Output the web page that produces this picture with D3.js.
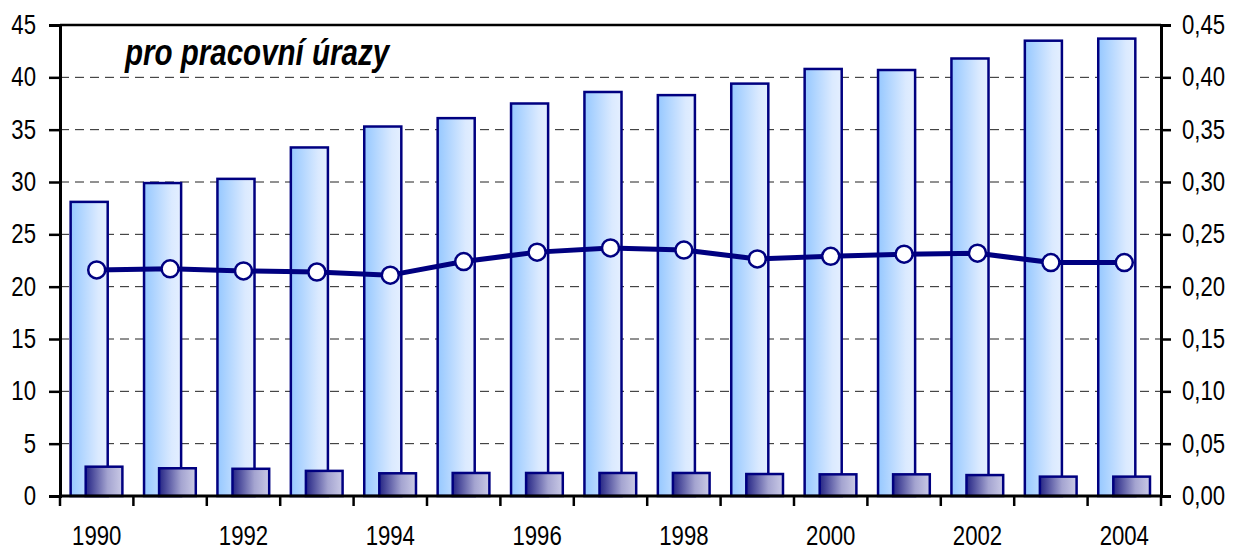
<!DOCTYPE html>
<html>
<head>
<meta charset="utf-8">
<style>
  body { margin: 0; background: #fff; }
  svg text { font-family: "Liberation Sans Narrow", "Arial Narrow", "Liberation Sans", Arial, sans-serif; fill: #000; }
  .title { font-size: 36px; font-weight: bold; font-style: italic; }
  .tick text { font-size: 27px; }
</style>
</head>
<body>
<script src="https://cdnjs.cloudflare.com/ajax/libs/d3/7.8.5/d3.min.js"></script>
<script>
// data
var years = [1990, 1991, 1992, 1993, 1994, 1995, 1996, 1997, 1998, 1999, 2000, 2001, 2002, 2003, 2004];
var bigBars = [28.1, 29.9, 30.3, 33.3, 35.3, 36.1, 37.5, 38.6, 38.3, 39.4, 40.8, 40.7, 41.8, 43.5, 43.7];
var smallBars = [2.8, 2.65, 2.6, 2.4, 2.17, 2.2, 2.2, 2.2, 2.2, 2.1, 2.07, 2.07, 2.0, 1.85, 1.85];
var lineValues = [0.216, 0.217, 0.215, 0.214, 0.211, 0.224, 0.233, 0.237, 0.235, 0.2265, 0.229, 0.231, 0.232, 0.223, 0.223];
var leftTicks = [0, 5, 10, 15, 20, 25, 30, 35, 40, 45];
var rightTicks = [0, 0.05, 0.10, 0.15, 0.20, 0.25, 0.30, 0.35, 0.40, 0.45];
var titleText = "pro pracovní úrazy";

var W = 1234, H = 551;
var margin = {top: 25, right: 73, bottom: 55, left: 60};
var width = W - margin.left - margin.right,
    height = H - margin.top - margin.bottom;

var svg = d3.select("body").append("svg")
    .attr("width", W)
    .attr("height", H);

var defs = svg.append("defs");
var g1 = defs.append("linearGradient").attr("id", "gBig")
    .attr("x1", "0%").attr("x2", "100%").attr("y1", "0%").attr("y2", "0%");
g1.append("stop").attr("offset", "0%").attr("stop-color", "#96c8ff");
g1.append("stop").attr("offset", "75%").attr("stop-color", "#dbeaff");
g1.append("stop").attr("offset", "100%").attr("stop-color", "#e4efff");
var g2 = defs.append("linearGradient").attr("id", "gSmall")
    .attr("x1", "0%").attr("x2", "100%").attr("y1", "0%").attr("y2", "0%");
g2.append("stop").attr("offset", "0%").attr("stop-color", "#252585");
g2.append("stop").attr("offset", "60%").attr("stop-color", "#a4a4d0");
g2.append("stop").attr("offset", "100%").attr("stop-color", "#cacae6");

var chart = svg.append("g")
    .attr("transform", "translate(" + margin.left + "," + margin.top + ")");

var x = d3.scaleBand().domain(years).range([0, width]).padding(0);
var y = d3.scaleLinear().domain([0, 45]).range([height, 0]);
var y2 = d3.scaleLinear().domain([0, 0.45]).range([height, 0]);
var bw = x.bandwidth();

// gridlines
chart.append("g").selectAll("line")
    .data(leftTicks.filter(function(d) { return d > 0 && d < 45; }))
    .enter().append("line")
    .attr("x1", 0).attr("x2", width)
    .attr("y1", function(d) { return y(d); })
    .attr("y2", function(d) { return y(d); })
    .attr("stroke", "#222")
    .attr("stroke-width", 1)
    .attr("stroke-dasharray", "9,6");

// top border
chart.append("line")
    .attr("x1", 0).attr("x2", width).attr("y1", 0).attr("y2", 0)
    .attr("stroke", "#000").attr("stroke-width", 2.5);

// big bars
chart.append("g").selectAll("rect")
    .data(bigBars)
    .enter().append("rect")
    .attr("x", function(d, i) { return x(years[i]) + bw * 0.145; })
    .attr("width", bw * 0.505)
    .attr("y", function(d) { return y(d); })
    .attr("height", function(d) { return height - y(d); })
    .attr("fill", "url(#gBig)")
    .attr("stroke", "#000080")
    .attr("stroke-width", 2.5);

// small bars
chart.append("g").selectAll("rect")
    .data(smallBars)
    .enter().append("rect")
    .attr("x", function(d, i) { return x(years[i]) + bw * 0.35; })
    .attr("width", bw * 0.5)
    .attr("y", function(d) { return y(d); })
    .attr("height", function(d) { return height - y(d); })
    .attr("fill", "url(#gSmall)")
    .attr("stroke", "#000080")
    .attr("stroke-width", 2.5);

// line
var line = d3.line()
    .x(function(d, i) { return x(years[i]) + bw / 2; })
    .y(function(d) { return y2(d); });

chart.append("path")
    .datum(lineValues)
    .attr("fill", "none")
    .attr("stroke", "#000080")
    .attr("stroke-width", 5)
    .attr("stroke-linejoin", "round")
    .attr("d", line);

chart.append("g").selectAll("circle")
    .data(lineValues)
    .enter().append("circle")
    .attr("cx", function(d, i) { return x(years[i]) + bw / 2; })
    .attr("cy", function(d) { return y2(d); })
    .attr("r", 8.5)
    .attr("fill", "#fff")
    .attr("stroke", "#000080")
    .attr("stroke-width", 2.5);

// axes
var leftAxis = chart.append("g")
    .call(d3.axisLeft(y).tickValues(leftTicks).tickSize(11).tickPadding(13)
        .tickFormat(d3.format("d")));

var rightAxis = chart.append("g")
    .attr("transform", "translate(" + width + ",0)")
    .call(d3.axisRight(y2).tickValues(rightTicks).tickSize(10).tickPadding(11)
        .tickFormat(function(d) { return d.toFixed(2).replace(".", ","); }));

var bottomAxis = chart.append("g")
    .attr("transform", "translate(0," + height + ")")
    .call(d3.axisBottom(x).tickSize(0).tickPadding(30)
        .tickFormat(function(d) { return d % 2 === 0 ? d : ""; }));

// category boundary ticks
chart.append("g").selectAll("line")
    .data(years.concat([null]))
    .enter().append("line")
    .attr("x1", function(d, i) { return i * bw; })
    .attr("x2", function(d, i) { return i * bw; })
    .attr("y1", height)
    .attr("y2", height + 10)
    .attr("stroke", "#000")
    .attr("stroke-width", 2.5);

[leftAxis, rightAxis, bottomAxis].forEach(function(a) {
    a.select(".domain").attr("stroke", "#000").attr("stroke-width", 3);
    a.selectAll(".tick line").attr("stroke", "#000").attr("stroke-width", 2.5);
    a.attr("font-size", null).attr("font-family", null);
});
bottomAxis.select(".domain").attr("d", "M0,0H" + width);

var title = chart.append("text")
    .attr("class", "title")
    .attr("x", 65)
    .attr("y", 40)
    .text(titleText);

// narrow look: squeeze the labels horizontally (no narrow font installed)
svg.selectAll(".tick text").each(function() {
    var len = this.getComputedTextLength();
    if (len > 0) {
        d3.select(this).attr("textLength", len * 0.82).attr("lengthAdjust", "spacingAndGlyphs");
    }
});
title.attr("textLength", title.node().getComputedTextLength() * 0.82)
    .attr("lengthAdjust", "spacingAndGlyphs");
</script>
</body>
</html>
